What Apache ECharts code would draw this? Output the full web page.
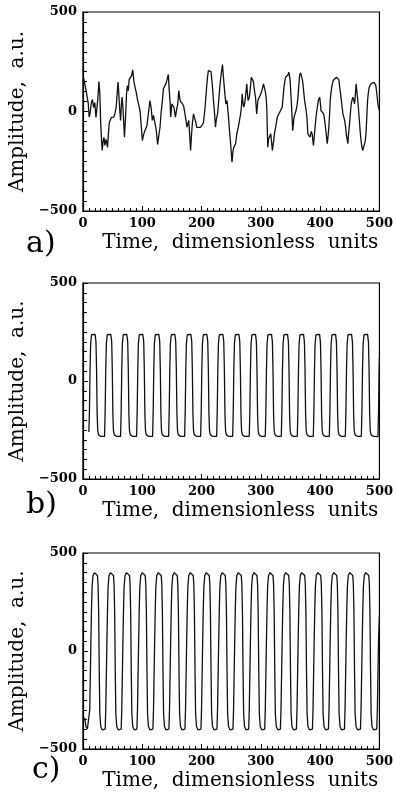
<!DOCTYPE html>
<html><head><meta charset="utf-8">
<script src="https://cdn.jsdelivr.net/npm/echarts@6/dist/echarts.min.js"></script>
<style>html,body{margin:0;padding:0;background:#fff}#c{width:396px;height:797px}</style>
</head><body><div id="c"></div>
<script>
// Panel a: irregular signal
const aTime = [0,1.5,3,5,7,9,10.5,12,14,16,18,20,22,23.5,25,27,28.5,30,31.5,32.5,34,35.5,37,39,41.5,43,44.5,46,48,50,52,54,56,58,59.2,60.5,62,63.5,65,66,67.5,70,72,73.5,75,76.5,78,80,82,84,86,88,90,92,94,96.5,98.5,100.2,102,104,106,108,110,112,113,115,117,119,121,123.5,126,128,130,132,134,135.7,137.9,140,141.5,144,145.5,147,148,150,151.5,153.5,156,158,160,161.7,163,164.5,166,168,170,172,173.5,175.5,177,178.5,180,181.6,183,184.5,186.5,188,190,192,195,198,200.5,203,205,206.5,208.5,210,211.5,214,216,218,220,221.5,223.5,225,227,229,231,232.5,235.3,237,239,241,243,245,247,248.6,250,251.4,253,254.5,256,257.5,259.5,262,264,266,267.5,268.6,270,271.5,273.5,275,276.3,277.5,278.5,280.7,282,284,286.3,287.5,288.5,290,291,293,295,297.3,299.5,301.8,303,304.5,306,307.3,309,310,311.7,313,314.5,316.7,318,319.5,321.7,323,325,327.8,330.6,333.3,336,337.5,339,341.6,343,344.4,346,347.2,348.5,349.4,351.6,353.8,356,359.4,361,362.7,364,365.4,367,368.2,370,371,373.8,376.5,378,379.3,381,383,385,386.5,388.7,390,391.5,393,394.5,397,399.2,400.5,401.4,403.7,405.9,407.5,409,410.5,412,413.5,414.7,416,417,418.5,420,422,424.7,427.5,430,431.5,433,434.5,435.8,438.5,441.3,443,444,445.5,446.8,448,449.6,451,452.4,455,456.5,458,459.5,460.7,462,463.5,465,466.2,467.5,469,470.5,471.8,474.5,476,477.3,478.5,480,481.5,482.8,485.6,488,491,492.8,494,495.6,497,498.3,500];
const aAmp = [150,165,140,110,100,40,-28,-10,40,60,20,45,-30,-40,60,150,90,-60,-150,-196,-150,-130,-170,-140,-180,-110,-55,-45,-30,-37,-28,-10,20,100,148,90,10,-45,40,72,20,-129,-20,89,130,105,160,170,180,209,150,120,95,60,35,0,-80,-146,-120,-100,-110,-70,-20,30,55,20,-45,-20,-30,-90,-166,-120,-79,0,55,114,105,140,156,186,110,45,-28,38,30,20,-28,10,40,105,70,50,40,38,25,-10,-40,-79,-60,-45,-120,-196,-120,-60,-12,-30,-50,-80,-75,-80,-87,-60,-10,40,120,170,206,210,200,140,60,10,-79,-40,-12,55,130,172,236,170,100,38,55,-12,-90,-146,-200,-255,-200,-179,-170,-162,-112,-79,-45,-10,30,89,40,22,55,100,139,90,55,72,110,172,181,150,122,90,72,-12,55,72,85,105,120,139,120,105,70,20,-179,-140,-146,-112,-150,-196,-146,-110,-79,-28,-20,5,22,70,122,172,165,181,185,198,175,156,38,-96,-28,5,30,72,130,181,195,189,160,139,55,5,-40,-112,-120,-129,-100,-112,-171,-130,-79,-30,5,55,72,40,5,5,-12,-40,-79,-120,-162,-120,-79,-10,55,100,130,156,164,172,181,160,122,90,55,-12,-45,-80,-112,-140,-162,-110,-62,-10,38,72,60,38,90,139,100,55,0,-45,-100,-146,-180,-196,-188,-150,-112,-40,55,100,122,139,140,147,156,130,89,50,22,5];

// Panel b: regular oscillation (one row per cycle)
const bTime = [
 10,11,12,13,14.5,17.5,20.5,22,23,24,25,26.5,30.5,
 36.5,37.5,38.5,39.5,41,44,47,48.5,49.5,50.5,51.5,53,57,
 63.5,64.5,65.5,66.5,68,71,74,75.5,76.5,77.5,78.5,80,84,
 90.5,91.5,92.5,93.5,95,98,101,102.5,103.5,104.5,105.5,107,111,
 117.5,118.5,119.5,120.5,122,125,128,129.5,130.5,131.5,132.5,134,138,
 144.5,145.5,146.5,147.5,149,152,155,156.5,157.5,158.5,159.5,161,165,
 171.5,172.5,173.5,174.5,176,179,182,183.5,184.5,185.5,186.5,188,192,
 198.5,199.5,200.5,201.5,203,206,209,210.5,211.5,212.5,213.5,215,219,
 225.5,226.5,227.5,228.5,230,233,236,237.5,238.5,239.5,240.5,242,246,
 252.5,253.5,254.5,255.5,257,260,263,264.5,265.5,266.5,267.5,269,273,
 280.5,281.5,282.5,283.5,285,288,291,292.5,293.5,294.5,295.5,297,301,
 307.5,308.5,309.5,310.5,312,315,318,319.5,320.5,321.5,322.5,324,328,
 334.5,335.5,336.5,337.5,339,342,345,346.5,347.5,348.5,349.5,351,355,
 361.5,362.5,363.5,364.5,366,369,372,373.5,374.5,375.5,376.5,378,382,
 388.5,389.5,390.5,391.5,393,396,399,400.5,401.5,402.5,403.5,405,409,
 415.5,416.5,417.5,418.5,420,423,426,427.5,428.5,429.5,430.5,432,436,
 442.5,443.5,444.5,445.5,447,450,453,454.5,455.5,456.5,457.5,459,463,
 469.5,470.5,471.5,472.5,474,477,480,481.5,482.5,483.5,484.5,486,490,
 497.5,498.5,499.5,500];
const bAmp = [
 -260,-150,60,190,236,246,238,200,60,-170,-255,-275,-283,
 -282,-150,60,190,236,246,238,200,60,-170,-255,-275,-283,
 -282,-150,60,190,236,246,238,200,60,-170,-255,-275,-283,
 -282,-150,60,190,236,246,238,200,60,-170,-255,-275,-283,
 -282,-150,60,190,236,246,238,200,60,-170,-255,-275,-283,
 -282,-150,60,190,236,246,238,200,60,-170,-255,-275,-283,
 -282,-150,60,190,236,246,238,200,60,-170,-255,-275,-283,
 -282,-150,60,190,236,246,238,200,60,-170,-255,-275,-283,
 -282,-150,60,190,236,246,238,200,60,-170,-255,-275,-283,
 -282,-150,60,190,236,246,238,200,60,-170,-255,-275,-283,
 -282,-150,60,190,236,246,238,200,60,-170,-255,-275,-283,
 -282,-150,60,190,236,246,238,200,60,-170,-255,-275,-283,
 -282,-150,60,190,236,246,238,200,60,-170,-255,-275,-283,
 -282,-150,60,190,236,246,238,200,60,-170,-255,-275,-283,
 -282,-150,60,190,236,246,238,200,60,-170,-255,-275,-283,
 -282,-150,60,190,236,246,238,200,60,-170,-255,-275,-283,
 -282,-150,60,190,236,246,238,200,60,-170,-255,-275,-283,
 -282,-150,60,190,236,246,238,200,60,-170,-255,-275,-283,
 -284,-150,60,120];

// Panel c: larger-amplitude oscillation (one row per cycle)
const cTime = [
 3,5,7.5,
 10.5,11.5,12.5,13.5,14.5,15.5,17,19.5,22.5,24.5,25.5,26.5,27.5,28.5,30,32.5,
 37.5,38.5,39.5,40.5,41.5,42.5,44,46.5,49.5,51.5,52.5,53.5,54.5,55.5,57,59.5,
 64.5,65.5,66.5,67.5,68.5,69.5,71,73.5,76.5,78.5,79.5,80.5,81.5,82.5,84,86.5,
 91,92,93,94,95,96,97.5,100,103,105,106,107,108,109,110.5,113,
 118,119,120,121,122,123,124.5,127,130,132,133,134,135,136,137.5,140,
 145,146,147,148,149,150,151.5,154,157,159,160,161,162,163,164.5,167,
 172,173,174,175,176,177,178.5,181,184,186,187,188,189,190,191.5,194,
 199,200,201,202,203,204,205.5,208,211,213,214,215,216,217,218.5,221,
 226,227,228,229,230,231,232.5,235,238,240,241,242,243,244,245.5,248,
 253,254,255,256,257,258,259.5,262,265,267,268,269,270,271,272.5,275,
 279.5,280.5,281.5,282.5,283.5,284.5,286,288.5,291.5,293.5,294.5,295.5,296.5,297.5,299,301.5,
 306.5,307.5,308.5,309.5,310.5,311.5,313,315.5,318.5,320.5,321.5,322.5,323.5,324.5,326,328.5,
 333,334,335,336,337,338,339.5,342,345,347,348,349,350,351,352.5,355,
 360,361,362,363,364,365,366.5,369,372,374,375,376,377,378,379.5,382,
 387,388,389,390,391,392,393.5,396,399,401,402,403,404,405,406.5,409,
 414,415,416,417,418,419,420.5,423,426,428,429,430,431,432,433.5,436,
 441,442,443,444,445,446,447.5,450,453,455,456,457,458,459,460.5,463,
 468,469,470,471,472,473,474.5,477,480,482,483,484,485,486,487.5,490,
 495.5,496.5,497.5,498.5,500];
const cAmp = [
 -340,-385,-398,
 -398,-300,-120,60,220,330,385,400,398,385,340,200,-100,-320,-385,-402,
 -398,-300,-120,60,220,330,385,400,398,385,340,200,-100,-320,-385,-402,
 -398,-300,-120,60,220,330,385,400,398,385,340,200,-100,-320,-385,-402,
 -398,-300,-120,60,220,330,385,400,398,385,340,200,-100,-320,-385,-402,
 -398,-300,-120,60,220,330,385,400,398,385,340,200,-100,-320,-385,-402,
 -398,-300,-120,60,220,330,385,400,398,385,340,200,-100,-320,-385,-402,
 -398,-300,-120,60,220,330,385,400,398,385,340,200,-100,-320,-385,-402,
 -398,-300,-120,60,220,330,385,400,398,385,340,200,-100,-320,-385,-402,
 -398,-300,-120,60,220,330,385,400,398,385,340,200,-100,-320,-385,-402,
 -398,-300,-120,60,220,330,385,400,398,385,340,200,-100,-320,-385,-402,
 -398,-300,-120,60,220,330,385,400,398,385,340,200,-100,-320,-385,-402,
 -398,-300,-120,60,220,330,385,400,398,385,340,200,-100,-320,-385,-402,
 -398,-300,-120,60,220,330,385,400,398,385,340,200,-100,-320,-385,-402,
 -398,-300,-120,60,220,330,385,400,398,385,340,200,-100,-320,-385,-402,
 -398,-300,-120,60,220,330,385,400,398,385,340,200,-100,-320,-385,-402,
 -398,-300,-120,60,220,330,385,400,398,385,340,200,-100,-320,-385,-402,
 -398,-300,-120,60,220,330,385,400,398,385,340,200,-100,-320,-385,-402,
 -398,-300,-120,60,220,330,385,400,398,385,340,200,-100,-320,-385,-402,
 -398,-300,-120,60,180];

const panelLabels = ['a)', 'b)', 'c)'];
const xTitle = 'Time,  dimensionless  units';
const yTitle = 'Amplitude,  a.u.';

const series = [[aTime, aAmp], [bTime, bAmp], [cTime, cAmp]];
const gridPos = [
  {left: 81, top: 12, width: 301, height: 199},
  {left: 81, top: 283, width: 301, height: 196},
  {left: 81, top: 553, width: 301, height: 196}
];
const labelTops = [229, 490, 755];
const labelLefts = [26, 26, 32];

const serif = 'DejaVu Serif';
const chart = echarts.init(document.getElementById('c'), null, {renderer: 'canvas'});
const option = {
  animation: false,
  backgroundColor: '#fff',
  title: panelLabels.map((t, i) => ({
    text: t, left: labelLefts[i], top: labelTops[i], padding: 0,
    textStyle: {fontFamily: serif, fontSize: 30, fontWeight: 'normal', color: '#000'}
  })),
  grid: gridPos.map(g => Object.assign({show: true, borderColor: '#000', borderWidth: 1.2, backgroundColor: 'transparent', containLabel: false}, g)),
  xAxis: gridPos.map((g, i) => ({
    type: 'value', gridIndex: i, min: 0, max: 500, interval: 100,
    axisLine: {show: true, onZero: false, lineStyle: {color: '#000', width: 1.2}},
    axisTick: {show: true, inside: true, length: 5, lineStyle: {color: '#000', width: 1}},
    minorTick: {show: true, splitNumber: 10, length: 3, lineStyle: {color: '#000', width: 1}},
    splitLine: {show: false},
    axisLabel: {color: '#000', fontFamily: serif, fontWeight: 'bold', fontSize: 13, margin: 6},
    name: xTitle, nameLocation: 'middle', nameGap: 22,
    nameTextStyle: {fontFamily: serif, fontSize: 20, color: '#000', padding: [0, 0, 0, 18]}
  })),
  yAxis: gridPos.map((g, i) => ({
    type: 'value', gridIndex: i, min: -500, max: 500, interval: 500,
    axisLine: {show: true, onZero: false, lineStyle: {color: '#000', width: 1.2}},
    axisTick: {show: true, inside: true, length: 5, lineStyle: {color: '#000', width: 1}},
    minorTick: {show: true, splitNumber: 10, length: 4, lineStyle: {color: '#000', width: 1}},
    splitLine: {show: false},
    axisLabel: {color: '#000', fontFamily: serif, fontWeight: 'bold', fontSize: 13, margin: 6,
      formatter: v => (v < 0 ? '\u2212' + (-v) : String(v))},
    name: yTitle, nameLocation: 'middle', nameRotate: 90, nameGap: 35,
    nameTextStyle: {fontFamily: serif, fontSize: 20, color: '#000'}
  })),
  series: series.map((s, i) => ({
    type: 'line', xAxisIndex: i, yAxisIndex: i, showSymbol: false, symbol: 'none',
    lineStyle: {color: '#111', width: 1.3}, clip: true,
    data: s[0].map((t, k) => [t, s[1][k]])
  }))
};
chart.setOption(option);
</script>
</body></html>
